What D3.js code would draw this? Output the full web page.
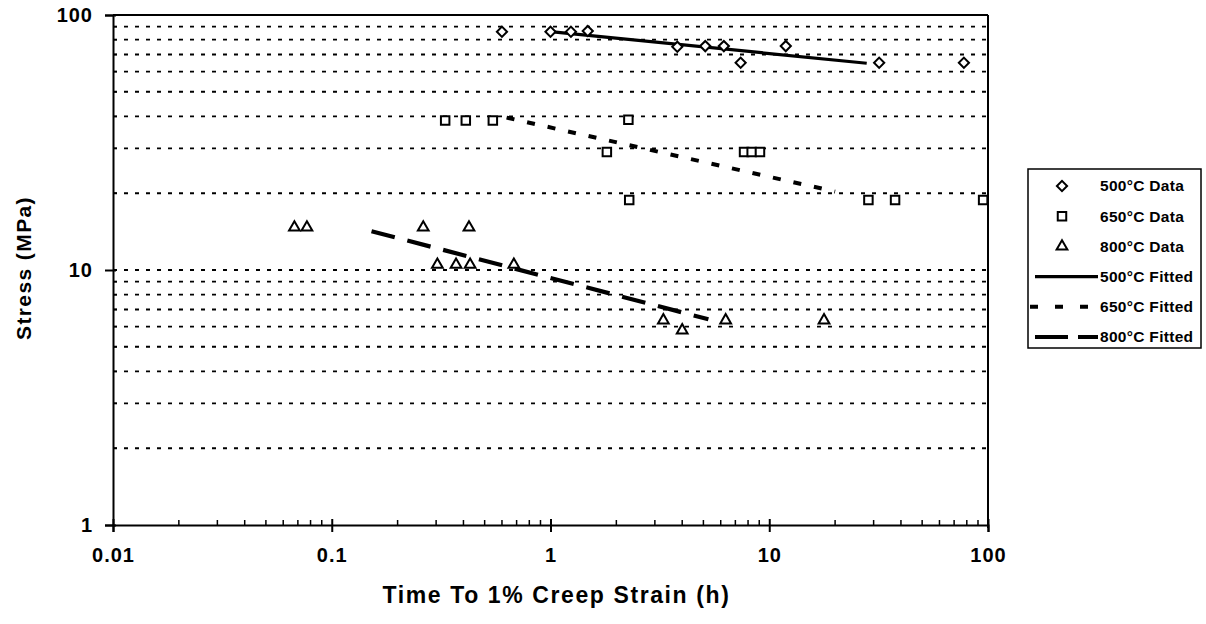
<!DOCTYPE html>
<html>
<head>
<meta charset="utf-8">
<script src="https://cdn.jsdelivr.net/npm/d3@7"></script>
<style>
  html, body { margin: 0; padding: 0; background: #fff; }
  svg { display: block; }
  text { font-family: "Liberation Sans", Arial, sans-serif; font-weight: bold; fill: #000; }
</style>
</head>
<body>
<svg id="chart" width="1206" height="624"></svg>
<script>
// ---- data ----
const xTickValues = [0.01, 0.1, 1, 10, 100];
const xTickLabels = ["0.01", "0.1", "1", "10", "100"];
const yTickValues = [1, 10, 100];
const yTickLabels = ["1", "10", "100"];
const gridValues = [2, 3, 4, 5, 6, 7, 8, 9, 10, 20, 30, 40, 50, 60, 70, 80, 90];

const data500x = [0.6, 1.0, 1.24, 1.48, 3.8, 5.1, 6.2, 7.4, 11.9, 31.8, 77.6];
const data500y = [86, 86, 86, 86.5, 75, 75.5, 75.5, 65, 75.5, 65, 65];

const data650x = [0.33, 0.41, 0.545, 2.27, 1.81, 7.67, 8.31, 9.07, 2.29, 28.4, 37.6, 95];
const data650y = [38.6, 38.6, 38.6, 38.8, 29, 29, 29, 29, 18.8, 18.8, 18.8, 18.8];

const data800x = [0.0675, 0.077, 0.262, 0.424, 0.304, 0.37, 0.429, 0.68, 3.28, 4.0, 6.32, 17.8];
const data800y = [14.7, 14.7, 14.7, 14.7, 10.5, 10.5, 10.5, 10.5, 6.35, 5.8, 6.35, 6.35];

const fit500x = [1.0, 27.9];
const fit500y = [86, 64.7];
const fit650x = [0.63, 20];
const fit650y = [39.6, 20.3];
const fit800x = [0.152, 5.27];
const fit800y = [14.2, 6.41];

const seriesNames = ["500°C Data", "650°C Data", "800°C Data", "500°C Fitted", "650°C Fitted", "800°C Fitted"];
const xTitle = "Time To 1% Creep Strain (h)";
const yTitle = "Stress (MPa)";

// ---- layout ----
const svg = d3.select("#chart");
const x = d3.scaleLog().domain([0.01, 100]).range([113, 988]);
const y = d3.scaleLog().domain([1, 100]).range([525, 15]);

// gridlines
svg.append("g").selectAll("line").data(gridValues).join("line")
  .attr("x1", x(0.01)).attr("x2", x(100))
  .attr("y1", d => y(d)).attr("y2", d => y(d))
  .attr("stroke", "#000").attr("stroke-width", 1.8)
  .attr("stroke-dasharray", "4,7");

// frame: top and right border
svg.append("line").attr("x1", x(0.01)).attr("x2", x(100)).attr("y1", y(100)).attr("y2", y(100))
  .attr("stroke", "#000").attr("stroke-width", 2);
svg.append("line").attr("x1", x(100)).attr("x2", x(100)).attr("y1", y(100)).attr("y2", y(1) + 3)
  .attr("stroke", "#000").attr("stroke-width", 2);

// minor tick values
const minorX = [];
[0.01, 0.1, 1, 10].forEach(b => { for (let k = 2; k <= 9; k++) minorX.push(b * k); });
const minorY = [];
[1, 10].forEach(b => { for (let k = 2; k <= 9; k++) minorY.push(b * k); });

// x axis
const gx = svg.append("g").attr("transform", `translate(0,${y(1)})`);
gx.call(d3.axisBottom(x).tickValues(xTickValues).tickFormat((d, i) => xTickLabels[i]).tickSize(7).tickPadding(16));
gx.select(".domain").attr("stroke-width", 2);
gx.selectAll(".tick line").attr("stroke-width", 2).attr("y1", -6);
gx.selectAll(".tick text").style("font-size", "20px").style("letter-spacing", "1px").style("font-family", "Liberation Sans, Arial, sans-serif").style("font-weight", "bold");
gx.selectAll(".minor").data(minorX).join("line").attr("class", "minor")
  .attr("x1", d => x(d)).attr("x2", d => x(d)).attr("y1", 0).attr("y2", -5)
  .attr("stroke", "#000").attr("stroke-width", 1.5);

// y axis
const gy = svg.append("g").attr("transform", `translate(${x(0.01)},0)`);
gy.call(d3.axisLeft(y).tickValues(yTickValues).tickFormat((d, i) => yTickLabels[i]).tickSize(8).tickPadding(12));
gy.select(".domain").attr("stroke-width", 2);
gy.selectAll(".tick line").attr("stroke-width", 2).attr("x1", 3);
gy.selectAll(".tick text").style("font-size", "20px").style("letter-spacing", "1px").style("font-family", "Liberation Sans, Arial, sans-serif").style("font-weight", "bold");
gy.selectAll(".minor").data(minorY).join("line").attr("class", "minor")
  .attr("y1", d => y(d)).attr("y2", d => y(d)).attr("x1", 0).attr("x2", 4)
  .attr("stroke", "#000").attr("stroke-width", 1.5);

// axis titles
svg.append("text").attr("x", (x(0.01) + x(100)) / 2 + 6).attr("y", 603)
  .attr("text-anchor", "middle").style("font-size", "23px").style("letter-spacing", "1.6px")
  .text(xTitle);
svg.append("text").attr("transform", `translate(31,268) rotate(-90)`)
  .attr("text-anchor", "middle").style("font-size", "21px").style("letter-spacing", "1.4px")
  .text(yTitle);

// fitted lines
const line = d3.line().x(d => x(d[0])).y(d => y(d[1]));
const fits = [
  { xs: fit500x, ys: fit500y, dash: null, w: 3.2 },
  { xs: fit650x, ys: fit650y, dash: "8,13", w: 4 },
  { xs: fit800x, ys: fit800y, dash: "24,13", w: 4.2 }
];
fits.forEach(f => {
  svg.append("path").datum(f.xs.map((v, i) => [v, f.ys[i]]))
    .attr("d", line).attr("fill", "none").attr("stroke", "#000")
    .attr("stroke-width", f.w).attr("stroke-dasharray", f.dash);
});

// markers
const diamondPath = d3.symbol().type(d3.symbolSquare).size(52)();
const squarePath = d3.symbol().type(d3.symbolSquare).size(72)();
const trianglePath = d3.symbol().type(d3.symbolTriangle).size(50)();
const markerSets = [
  { xs: data500x, ys: data500y, path: diamondPath, rot: 45 },
  { xs: data650x, ys: data650y, path: squarePath, rot: 0 },
  { xs: data800x, ys: data800y, path: trianglePath, rot: 0 }
];
markerSets.forEach(m => {
  svg.append("g").selectAll("path").data(m.xs.map((v, i) => [v, m.ys[i]])).join("path")
    .attr("d", m.path)
    .attr("transform", d => `translate(${x(d[0])},${y(d[1])}) rotate(${m.rot})`)
    .attr("fill", "#fff").attr("stroke", "#000").attr("stroke-width", 2);
});

// legend
const lg = svg.append("g");
lg.append("rect").attr("x", 1028).attr("y", 169).attr("width", 173).attr("height", 179)
  .attr("fill", "#fff").attr("stroke", "#000").attr("stroke-width", 1.5);
const rowY = i => 186 + i * 30.2;
[diamondPath, squarePath, trianglePath].forEach((p, i) => {
  lg.append("path").attr("d", p)
    .attr("transform", `translate(1062,${rowY(i)}) rotate(${i === 0 ? 45 : 0})`)
    .attr("fill", "#fff").attr("stroke", "#000").attr("stroke-width", 2);
});
const legendDash = [null, "8,17", "33,10"];
const legendW = [3.2, 4, 4.2];
for (let i = 0; i < 3; i++) {
  lg.append("line").attr("x1", i === 1 ? 1030 : 1035).attr("x2", 1098)
    .attr("y1", rowY(i + 3)).attr("y2", rowY(i + 3))
    .attr("stroke", "#000").attr("stroke-width", legendW[i]).attr("stroke-dasharray", legendDash[i]);
}
seriesNames.forEach((s, i) => {
  lg.append("text").attr("x", 1100).attr("y", rowY(i)).attr("dy", "0.35em")
    .style("font-size", "15.5px").style("letter-spacing", "0.3px").text(s);
});
</script>
</body>
</html>
